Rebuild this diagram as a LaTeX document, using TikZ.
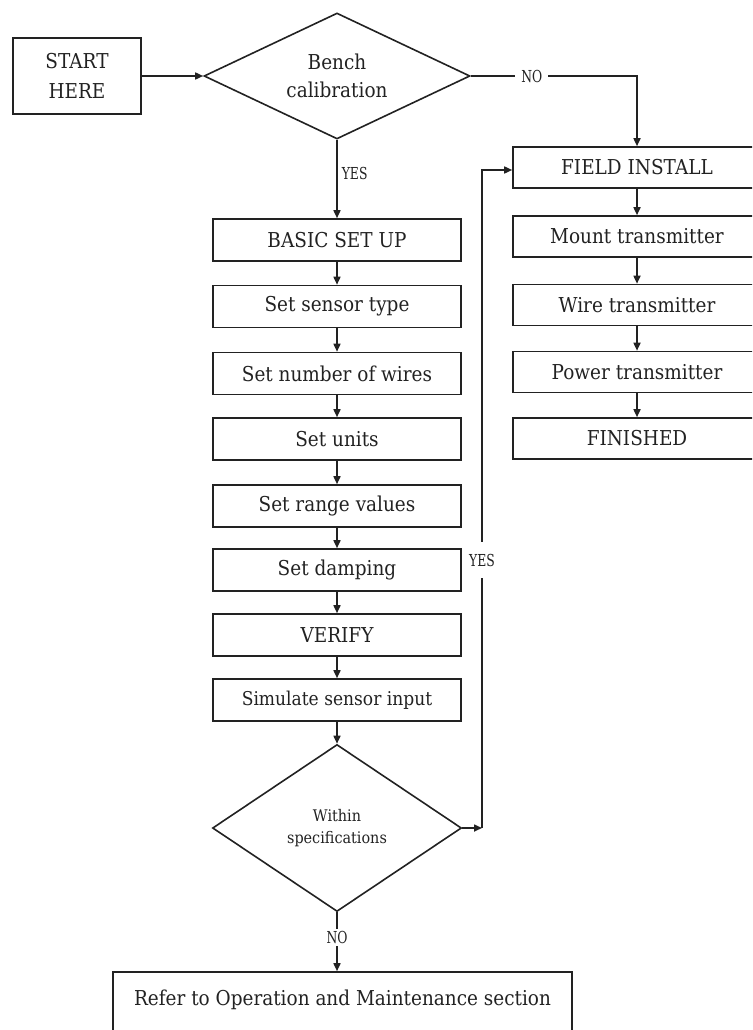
\documentclass[tikz,border=0pt]{standalone}
\usepackage{fontspec}
\setmainfont{DejaVu Serif}[FakeStretch=0.9]
\newfontfamily\lblfont{DejaVu Serif}[FakeStretch=0.75]
\usetikzlibrary{arrows.meta,shapes.geometric}
\definecolor{ink}{HTML}{222222}
\begin{document}
\begin{tikzpicture}[x=1pt,y=-1pt,
  box/.style={draw=ink, line width=1.6pt, rectangle, inner sep=0pt, text=ink,
    font=\fontsize{20.5}{23}\selectfont},
  lbox/.style={box, minimum width=248pt, minimum height=42pt},
  rbox/.style={box, minimum width=248pt, minimum height=41pt},
  dia/.style={draw=ink, line width=1.6pt, diamond, inner sep=0pt, align=center, text=ink},
  arr/.style={draw=ink, line width=1.6pt, -{Triangle[length=8pt,width=7pt]}},
  lbl/.style={font=\lblfont\fontsize{16.5}{18}\selectfont, text=ink, inner sep=1pt},
  gap/.style={lbl, fill=white}]
\useasboundingbox (0,0) rectangle (752,1030);
\clip (0,0) rectangle (752,1030);

% start and first decision
\node[box, minimum width=128pt, minimum height=76pt, align=center,
  font=\fontsize{20.5}{30}\selectfont] (start) at (77,76) {START\\HERE};
\node[dia, minimum width=266pt, minimum height=126pt, aspect=2,
  font=\fontsize{20.5}{28}\selectfont] (bench) at (337,76) {Bench\\calibration};

% left column
\node[lbox] (basic) at (337,240) {BASIC SET UP};
\node[lbox] (sensor) at (337,306.5) {Set sensor type};
\node[lbox] (wires) at (337,373.5) {Set number of wires};
\node[lbox] (units) at (337,439) {Set units};
\node[lbox] (range) at (337,506) {Set range values};
\node[lbox] (damp) at (337,570) {Set damping};
\node[lbox] (verify) at (337,635) {VERIFY};
\node[lbox, font=\fontsize{19}{21}\selectfont] (sim) at (337,700) {Simulate sensor input};

\node[dia, minimum width=249pt, minimum height=167pt, aspect=1.5,
  font=\fontsize{16}{22}\selectfont] (within) at (337,828) {Within\\specifications};

% right column
\node[rbox] (field) at (637,167.5) {FIELD INSTALL};
\node[rbox] (mount) at (637,236.5) {Mount transmitter};
\node[rbox] (wire) at (637,305) {Wire transmitter};
\node[rbox] (power) at (637,372) {Power transmitter};
\node[rbox] (fin) at (637,438.5) {FINISHED};

% bottom box
\node[box, anchor=base, text height=33pt, text depth=40pt, inner xsep=0pt,
  minimum width=459pt] (refer) at (342.5,1005) {Refer to Operation and Maintenance section};

% connectors
\draw[arr] (start.east) -- (bench.west);
\draw[arr] (bench.south) -- node[lbl, right, pos=0.43, xshift=3pt]{YES} (basic.north);
\draw[arr] (bench.east) -- node[gap, inner xsep=6pt, pos=0.367]{NO} (bench.east -| field.north) -- (field.north);

\foreach \a/\b in {basic/sensor, sensor/wires, wires/units, units/range, range/damp, damp/verify, verify/sim, sim/within}
  \draw[arr] (\a.south) -- (\b.north);
\foreach \a/\b in {field/mount, mount/wire, wire/power, power/fin}
  \draw[arr] (\a.south) -- (\b.north);

\coordinate (y1) at (482,828);
\coordinate (y2) at (482,170);
\draw[arr] (within.east) -- (y1);
\draw[arr] (y1) -- node[gap, inner ysep=12pt, pos=0.407]{YES} (y2) -- (field.west |- y2);
\draw[arr] (within.south) -- node[gap, inner ysep=2pt, pos=0.43]{NO} (within.south |- refer.north);
\end{tikzpicture}
\end{document}
